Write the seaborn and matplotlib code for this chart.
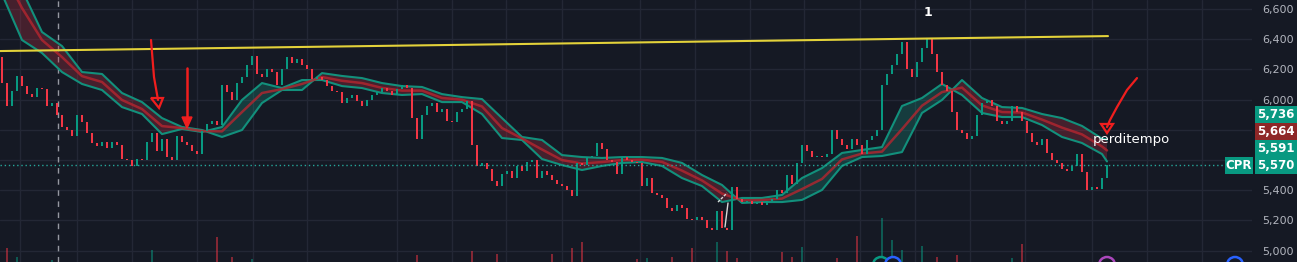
import numpy as np
import pandas as pd
import matplotlib
matplotlib.use("Agg")
import matplotlib.pyplot as plt
import seaborn as sns
from matplotlib.patches import Rectangle, Polygon, Ellipse

# ---------------- data ----------------
first_open = 6280
closes = [
    6110, 5960, 6060, 6160, 6090, 6040, 6020, 6080, 6070, 5960,
    5980, 5900, 5820, 5800, 5760, 5900, 5850, 5780, 5710, 5690,
    5720, 5680, 5720, 5700, 5610, 5600, 5560, 5610, 5600, 5720,
    5780, 5660, 5740, 5620, 5600, 5760, 5720, 5700, 5660, 5640,
    5790, 5840, 5860, 5830, 6100, 6050, 6000, 6110, 6150, 6230,
    6290, 6170, 6150, 6200, 6180, 6100, 6200, 6280, 6240, 6270,
    6230, 6200, 6140, 6150, 6130, 6090, 6060, 6050, 5980, 6010,
    6030, 5990, 5960, 6000, 6030, 6050, 6080, 6060, 6030, 6070,
    6100, 6080, 5880, 5740, 5900, 5960, 5980, 5920, 5940, 5860,
    5850, 5920, 5940, 5990, 5700, 5560, 5580, 5540, 5460, 5430,
    5510, 5530, 5480, 5560, 5530, 5590, 5600, 5480, 5530, 5500,
    5470, 5440, 5430, 5400, 5360, 5580, 5570, 5620, 5630, 5710,
    5670, 5600, 5590, 5510, 5620, 5600, 5590, 5580, 5430, 5480,
    5380, 5370, 5350, 5280, 5260, 5300, 5280, 5210, 5200, 5220,
    5200, 5150, 5140, 5260, 5150, 5140, 5420, 5340, 5320, 5330,
    5310, 5320, 5300, 5330, 5340, 5400, 5380, 5500, 5440, 5580,
    5700, 5660, 5620, 5630, 5620, 5640, 5800, 5740, 5700, 5670,
    5740, 5700, 5640, 5730, 5760, 5800, 6100, 6170, 6230, 6300,
    6380, 6200, 6150, 6250, 6340, 6400, 6300, 6180, 6100, 6060,
    5920, 5800, 5780, 5740, 5760, 5900, 5980, 6000, 5960, 5860,
    5840, 5860, 5960, 5920, 5860, 5780, 5720, 5700, 5740, 5650,
    5600, 5580, 5540, 5530, 5560, 5640, 5520, 5400, 5420, 5410,
    5480, 5570,
]

band_idx = list(range(0, 221, 4)) + [221]
band_fast = [
    6699, 6395, 6309, 6183, 6104, 6064, 5951, 5905, 5772, 5806,
    5786, 5819, 5998, 6110, 6077, 6130, 6130, 6090, 6077, 6044,
    6031, 6037, 5984, 5984, 5905, 5746, 5733, 5607, 5567, 5534,
    5561, 5581, 5587, 5561, 5481, 5428, 5322, 5349, 5349, 5369,
    5481, 5547, 5647, 5667, 5686, 5958, 6011, 6104, 6031, 5912,
    5885, 5885, 5832, 5753, 5713, 5640, 5591,
]
band_slow = [
    6898, 6726, 6448, 6355, 6183, 6170, 6044, 5984, 5878, 5819,
    5799, 5753, 5799, 5978, 6064, 6064, 6176, 6157, 6143, 6110,
    6090, 6084, 6037, 6017, 6004, 5878, 5753, 5733, 5633, 5620,
    5614, 5620, 5620, 5614, 5581, 5501, 5435, 5316, 5322, 5322,
    5336, 5402, 5561, 5620, 5627, 5653, 5912, 5998, 6130, 6011,
    5951, 5945, 5905, 5878, 5826, 5742, 5736,
]
band_mid = [
    6858, 6607, 6395, 6282, 6156, 6117, 5998, 5938, 5825, 5812,
    5792, 5790, 5918, 6044, 6070, 6104, 6150, 6125, 6110, 6078,
    6060, 6060, 6011, 6000, 5955, 5812, 5743, 5670, 5600, 5577,
    5587, 5600, 5603, 5588, 5530, 5465, 5378, 5333, 5336, 5345,
    5408, 5475, 5604, 5643, 5656, 5805, 5960, 6050, 6080, 5962,
    5918, 5915, 5868, 5815, 5770, 5690, 5664,
]

vol_idx = [1, 3, 10, 30, 43, 46, 50, 83, 94, 99, 110, 114, 116, 127, 129, 134,
           138, 143, 145, 147, 156, 158, 160, 167, 171, 176, 178, 180, 184, 187,
           191, 202, 204]
vol_val = [14, 5, 2, 12, 25, 5, 3, 7, 11, 8, 8, 14, 20, 3, 4, 5,
           14, 20, 11, 4, 10, 5, 15, 4, 26, 44, 22, 12, 16, 5,
           7, 4, 18]

price_ticks = [5000, 5200, 5400, 6000, 6200, 6400, 6600]
grid_levels = [5000, 5200, 5400, 5600, 5800, 6000, 6200, 6400, 6600]
vgrid_idx = [3.6, 15, 26, 39, 50.2, 61, 79, 90, 100.8, 112, 127.6, 138.6,
             149.6, 160.4, 171.6, 182.6, 193.6, 204.6, 218, 229, 240]
cpr_level = 5570

# ---------------- style ----------------
BG = "#151924"
GRID = "#232735"
GREEN = "#089981"
RED = "#f23645"
W, H = 1297, 262

sns.set_theme(style="dark")
plt.rcParams["font.family"] = ["DejaVu Sans"]

fig = plt.figure(figsize=(W / 100, H / 100), dpi=100, facecolor=BG)
ax = fig.add_axes([0, 0, 1252 / W, 1])
ax.set_facecolor(BG)
for s in ax.spines.values():
    s.set_visible(False)

n = len(closes)
idx = np.arange(n)
opens = [first_open] + closes[:-1]
df = pd.DataFrame({"i": idx, "open": opens, "close": closes})
df["up"] = df["close"] >= df["open"]

ymin, ymax = 4925, 6660
xmin, xmax = -0.4, 250

# volume (own scale)
axv = ax.twinx()
axv.set_ylim(0, max(vol_val) * 262 / 44)
axv.set_axis_off()
vcol = [GREEN if df["up"].iloc[k] else RED for k in vol_idx]
axv.bar(vol_idx, vol_val, width=0.3, color=vcol, alpha=0.5, linewidth=0)

# grid
for lv in grid_levels:
    ax.axhline(lv, color=GRID, lw=1, zorder=0)
for gx in vgrid_idx:
    ax.axvline(gx, color=GRID, lw=1, zorder=0)

# dashed session line
ax.axvline(11.2, color="#9598a1", lw=1, ls=(0, (4, 4)), zorder=1)

# band fill
bf = np.array(band_fast, float)
bs = np.array(band_slow, float)
ax.fill_between(band_idx, bf, bs, where=bf < bs, interpolate=True,
                color="#a83040", alpha=0.33, lw=0, zorder=2)
ax.fill_between(band_idx, bf, bs, where=bf >= bs, interpolate=True,
                color="#1aa58e", alpha=0.25, lw=0, zorder=2)
bdf = pd.DataFrame({"i": band_idx, "fast": band_fast, "slow": band_slow, "mid": band_mid})
sns.lineplot(data=bdf, x="i", y="fast", ax=ax, color="#12907c", lw=1.5, zorder=3, legend=False)
sns.lineplot(data=bdf, x="i", y="slow", ax=ax, color="#12907c", lw=1.5, zorder=3, legend=False)
sns.lineplot(data=bdf, x="i", y="mid", ax=ax, color="#b5262f", lw=1.8, alpha=0.8, zorder=3, legend=False)

# candles
lo = df[["open", "close"]].min(axis=1)
hi = df[["open", "close"]].max(axis=1)
ht = np.maximum(hi - lo, 4)
ccol = [GREEN if u else RED for u in df["up"]]
ax.bar(df["i"], ht, bottom=lo, width=0.55, color=ccol, linewidth=0, zorder=4)

# yellow trend line
ax.plot([-0.4, 221.2], [6322, 6421], color="#e3d23a", lw=1.5, zorder=5)

# CPR dotted line
ax.axhline(cpr_level, color="#26a69a", lw=1, ls=(0, (1, 2)), zorder=5)

# small white drawing
ax.plot([143.2, 145], [5322, 5382], color="#d8d8d8", lw=1, ls=(0, (2, 1)), zorder=6)
ax.plot([144.6, 145.2], [5157, 5316], color="#d8d8d8", lw=1, zorder=6)

# red hand-drawn arrows
AR = "#f01e1e"
ax.plot([29.8, 30.4, 31.2], [6395, 6150, 5998], color=AR, lw=1.6, zorder=7)
ax.add_patch(Polygon([[29.8, 6011], [32.2, 6011], [31.4, 5945]], closed=True,
                     fill=False, edgecolor=AR, lw=1.6, zorder=7))
ax.plot([37, 37], [6209, 5878], color=AR, lw=1.8, zorder=7)
ax.add_patch(Polygon([[36, 5885], [38, 5885], [37, 5812]], closed=True,
                     facecolor=AR, edgecolor=AR, lw=1, zorder=7))
ax.plot([227, 225, 223, 221.6, 221], [6143, 6064, 5951, 5865, 5819], color=AR, lw=1.6, zorder=7)
ax.add_patch(Polygon([[219.8, 5839], [222.2, 5839], [221, 5779]], closed=True,
                     fill=False, edgecolor=AR, lw=1.6, zorder=7))

# texts
ax.text(185.2, 6580, "1", color="white", fontsize=9, fontweight="bold",
        ha="center", va="center", zorder=8)
ax.text(218.2, 5733, "perditempo", color="white", fontsize=9.5,
        ha="left", va="center", zorder=8)

ax.set_xlim(xmin, xmax)
ax.set_ylim(ymin, ymax)
ax.set_xticks([])
ax.set_xlabel("")
ax.set_ylabel("")
ax.yaxis.tick_right()
ax.set_yticks(price_ticks)
ax.set_yticklabels([f"{v:,}" for v in price_ticks])
ax.tick_params(axis="y", length=0, pad=7.5, labelsize=8, labelcolor="#b2b5be")
ax.grid(False)

# price scale boxes
def fig_box(x0, x1, ytop, ybot, color, label):
    fig.add_artist(Rectangle((x0 / W, 1 - ybot / H), (x1 - x0) / W, (ybot - ytop) / H,
                             transform=fig.transFigure, facecolor=color,
                             edgecolor="none", zorder=20))
    fig.text((x0 + x1) / 2 / W, 1 - (ytop + ybot) / 2 / H, label, color="white",
             ha="center", va="center", fontsize=8.5, fontweight="bold", zorder=21)

fig_box(1255, 1297, 106, 123, GREEN, f"{band_slow[-1]:,}")
fig_box(1255, 1297, 123, 140, "#8e2727", f"{band_mid[-1]:,}")
fig_box(1255, 1297, 140, 157, GREEN, f"{band_fast[-1]:,}")
fig_box(1255, 1297, 157, 174, GREEN, f"{closes[-1]:,}")
fig_box(1225, 1253, 157, 174, GREEN, "CPR")

# event icons at bottom
for cx, col in [(881, "#089981"), (893, "#2962ff"), (1107, "#ab47bc"), (1235, "#2962ff")]:
    fig.add_artist(Ellipse((cx / W, 1 - 265 / H), 16 / W, 16 / H, transform=fig.transFigure,
                           facecolor=BG, edgecolor=col, lw=1.8, zorder=22))

fig.savefig("out.png", dpi=100, facecolor=BG)
